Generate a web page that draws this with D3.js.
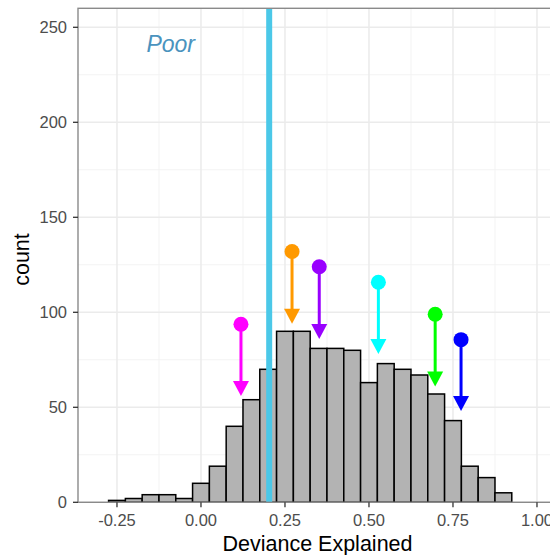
<!DOCTYPE html>
<html>
<head>
<meta charset="utf-8">
<script src="https://cdn.jsdelivr.net/npm/d3@7"></script>
<style>
  body { margin: 0; background: #fff; }
  svg { display: block; }
  text { font-family: "Liberation Sans", Arial, sans-serif; }
</style>
</head>
<body>
<svg id="chart" width="550" height="555"></svg>
<script>
// ---- data ----
const binCenters = [-0.25, -0.20, -0.15, -0.10, -0.05, 0.00, 0.05, 0.10, 0.15, 0.20, 0.25, 0.30,
                    0.35, 0.40, 0.45, 0.50, 0.55, 0.60, 0.65, 0.70, 0.75, 0.80, 0.85, 0.90];
const binCounts  = [1, 2, 4, 4, 2, 10, 19, 40, 54, 70, 90, 90,
                    81, 81, 80, 63, 73, 70, 67, 57, 43, 19, 13, 5];
const binWidth = 0.05;
const refLineX = 0.203;
const arrowX     = [0.119, 0.271, 0.352, 0.528, 0.697, 0.774];
const arrowStart = [93.7, 132, 124, 115.8, 99, 85.6];
const arrowEnd   = [56, 94, 86, 78, 61, 48];
const arrowColors = ["#FF00FF", "#FF9900", "#9900FF", "#00FFFF", "#00FF00", "#0000FF"];
const xTicks = [-0.25, 0.00, 0.25, 0.50, 0.75, 1.00];
const xTickLabels = ["-0.25", "0.00", "0.25", "0.50", "0.75", "1.00"];
const xMinor = [-0.375, -0.125, 0.125, 0.375, 0.625, 0.875];
const yTicks = [0, 50, 100, 150, 200, 250];
const yMinor = [25, 75, 125, 175, 225];
const labelText = "Poor";
const labelX = -0.09, labelY = 241;
const xTitle = "Deviance Explained";
const yTitle = "count";

// ---- layout ----
(function () {
const svg = d3.select("#chart");
const pL = 78, pR = 560.5, pT = 8.3, pB = 502.3;
const x = d3.scaleLinear().domain([-0.366, 1.07]).range([pL, pR]);
const y = d3.scaleLinear().domain([0, 260]).range([pB, pT]);

svg.append("defs").append("clipPath").attr("id", "panel")
  .append("rect").attr("x", pL).attr("y", pT).attr("width", pR - pL).attr("height", pB - pT);

const panel = svg.append("g").attr("clip-path", "url(#panel)");
panel.append("rect").attr("x", pL).attr("y", pT).attr("width", pR - pL).attr("height", pB - pT).attr("fill", "#fff");

// grid
panel.selectAll(".xminor").data(xMinor).join("line")
  .attr("x1", d => x(d)).attr("x2", d => x(d)).attr("y1", pT).attr("y2", pB)
  .attr("stroke", "#F3F3F3").attr("stroke-width", 1);
panel.selectAll(".yminor").data(yMinor).join("line")
  .attr("x1", pL).attr("x2", pR).attr("y1", d => y(d)).attr("y2", d => y(d))
  .attr("stroke", "#F3F3F3").attr("stroke-width", 1);
panel.selectAll(".xmajor").data(xTicks).join("line")
  .attr("x1", d => x(d)).attr("x2", d => x(d)).attr("y1", pT).attr("y2", pB)
  .attr("stroke", "#EBEBEB").attr("stroke-width", 1.5);
panel.selectAll(".ymajor").data(yTicks).join("line")
  .attr("x1", pL).attr("x2", pR).attr("y1", d => y(d)).attr("y2", d => y(d))
  .attr("stroke", "#EBEBEB").attr("stroke-width", 1.5);

// bars
panel.selectAll(".bar").data(binCenters).join("rect")
  .attr("x", d => x(d - binWidth / 2))
  .attr("width", d => x(d + binWidth / 2) - x(d - binWidth / 2))
  .attr("y", (d, i) => y(binCounts[i]))
  .attr("height", (d, i) => y(0) - y(binCounts[i]))
  .attr("fill", "#B3B3B3").attr("stroke", "#000").attr("stroke-width", 1.5);

// reference line
panel.append("line")
  .attr("x1", x(refLineX)).attr("x2", x(refLineX)).attr("y1", pT).attr("y2", pB)
  .attr("stroke", "#4BC8E8").attr("stroke-width", 6);

// arrows
const headH = 15, headW = 16;
arrowX.forEach((ax, i) => {
  const px = x(ax), y0 = y(arrowStart[i]), y1 = y(arrowEnd[i]);
  const col = arrowColors[i];
  panel.append("line").attr("x1", px).attr("x2", px).attr("y1", y0).attr("y2", y1 - headH + 2)
    .attr("stroke", col).attr("stroke-width", 3);
  panel.append("path")
    .attr("d", `M${px - headW / 2},${y1 - headH} L${px + headW / 2},${y1 - headH} L${px},${y1} Z`)
    .attr("fill", col);
  panel.append("circle").attr("cx", px).attr("cy", y0).attr("r", 7.5).attr("fill", col);
});

// annotation
panel.append("text").attr("x", x(labelX)).attr("y", y(labelY)).attr("text-anchor", "middle")
  .attr("dominant-baseline", "central")
  .attr("font-style", "italic").attr("font-size", 23).attr("fill", "#4A93BE").text(labelText);

// panel border
svg.append("rect").attr("x", pL).attr("y", pT).attr("width", pR - pL).attr("height", pB - pT)
  .attr("fill", "none").attr("stroke", "#8A8A8A").attr("stroke-width", 1.4);

// axes
const xAxis = svg.append("g");
xAxis.selectAll("line").data(xTicks).join("line")
  .attr("x1", d => x(d)).attr("x2", d => x(d)).attr("y1", pB).attr("y2", pB + 5)
  .attr("stroke", "#333").attr("stroke-width", 1.3);
xAxis.selectAll("text").data(xTicks).join("text")
  .attr("x", d => x(d)).attr("y", 526).attr("text-anchor", "middle")
  .attr("font-size", 16.5).attr("fill", "#4D4D4D").text((d, i) => xTickLabels[i]);

const yAxis = svg.append("g");
yAxis.selectAll("line").data(yTicks).join("line")
  .attr("x1", pL - 5).attr("x2", pL).attr("y1", d => y(d)).attr("y2", d => y(d))
  .attr("stroke", "#333").attr("stroke-width", 1.3);
yAxis.selectAll("text").data(yTicks).join("text")
  .attr("x", 67).attr("y", d => y(d)).attr("text-anchor", "end").attr("dominant-baseline", "central")
  .attr("font-size", 16.5).attr("fill", "#4D4D4D").text(d => d);

svg.append("text").attr("x", 317.5).attr("y", 550.5).attr("text-anchor", "middle")
  .attr("font-size", 21.5).attr("fill", "#000").text(xTitle);
svg.append("text").attr("transform", "translate(28.5,259.5) rotate(-90)").attr("text-anchor", "middle")
  .attr("font-size", 21.5).attr("fill", "#000").text(yTitle);
})();
</script>
</body>
</html>
